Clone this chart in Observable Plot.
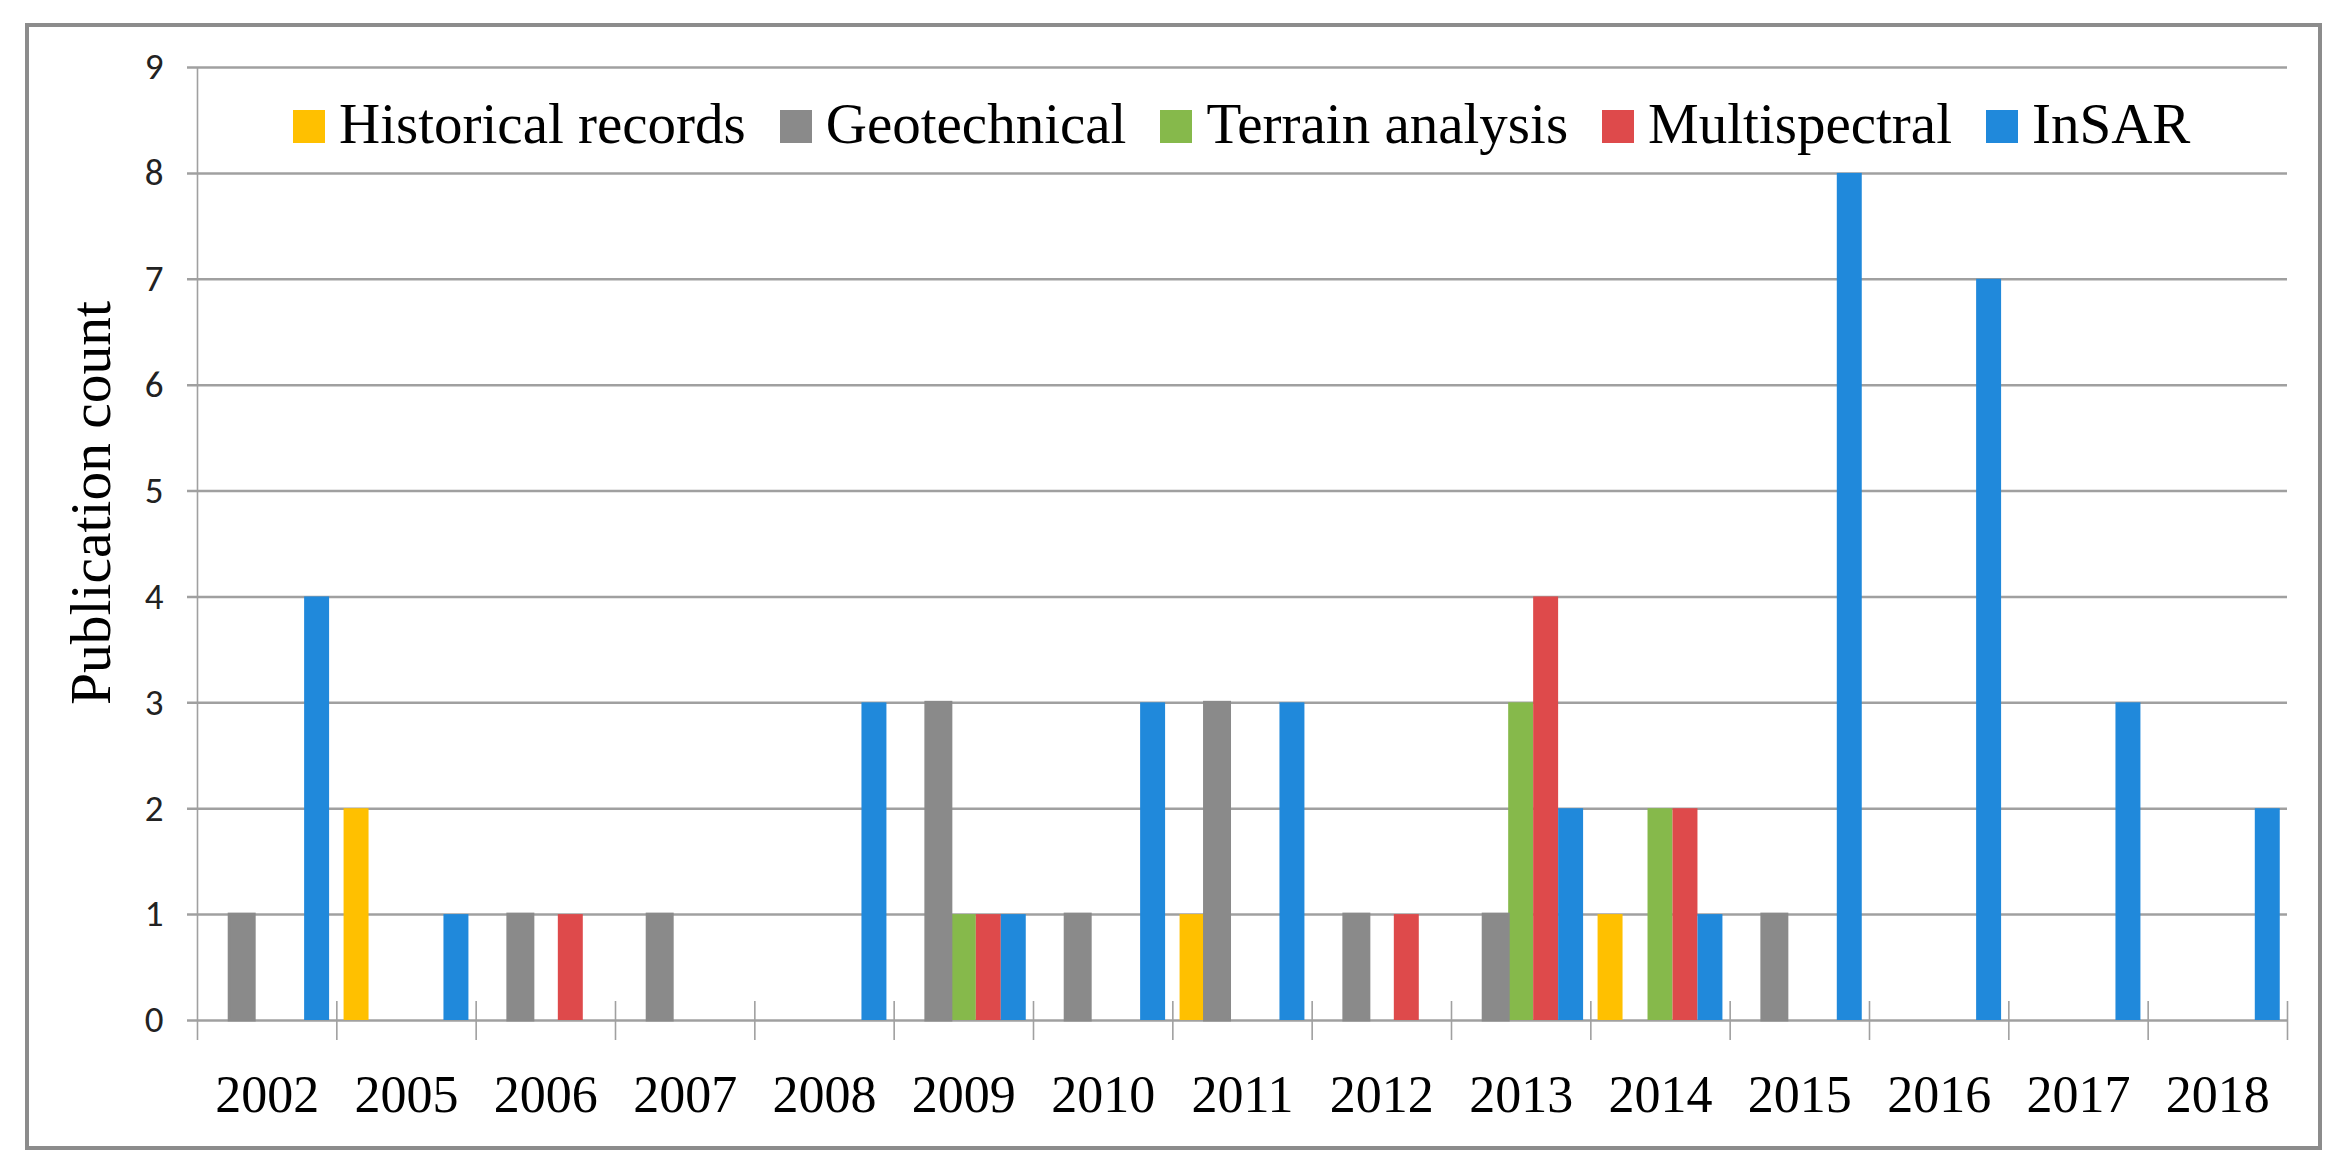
<!DOCTYPE html>
<html>
<head>
<meta charset="utf-8">
<script src="https://cdn.jsdelivr.net/npm/d3@7"></script>
<script src="https://cdn.jsdelivr.net/npm/@observablehq/plot@0.6"></script>
<style>
  html, body { margin: 0; padding: 0; background: #fff; }
  #wrap { position: relative; width: 2349px; height: 1176px; background: #fff; overflow: hidden; }
  #frame { position: absolute; left: 25px; top: 23px; width: 2297px; height: 1127px; box-sizing: border-box; border: 4px solid #8c8c8c; }
  #chart { position: absolute; left: 0; top: 0; }
  #legend { position: absolute; left: 293px; top: 96px; display: flex; align-items: center; gap: 34px;
            font-family: "Liberation Serif", "Times New Roman", serif; font-size: 57px; line-height: 56px; color: #000; white-space: nowrap; }
  #legend .item { display: flex; align-items: center; }
  #legend .sw { width: 32px; height: 33px; margin-right: 14px; margin-top: 4px; }
  #ytitle { position: absolute; left: 91px; top: 503px; transform: translate(-50%, -50%) rotate(-90deg);
            font-family: "Liberation Serif", "Times New Roman", serif; font-size: 57.5px; line-height: 57.5px; color: #000; white-space: nowrap; }
</style>
</head>
<body>
<div id="wrap">
  <div id="frame"></div>
  <div id="chart"></div>
  <div id="legend"></div>
  <div id="ytitle"></div>
</div>
<script>
// ---- Data ----
const years = ["2002", "2005", "2006", "2007", "2008", "2009", "2010", "2011", "2012", "2013", "2014", "2015", "2016", "2017", "2018"];
const series = ["Historical records", "Geotechnical", "Terrain analysis", "Multispectral", "InSAR"];
const colors = ["#FFC000", "#8a8a8a", "#86B94B", "#DE4A4B", "#2089DB"];
const historical    = [0, 2, 0, 0, 0, 0, 0, 1, 0, 0, 1, 0, 0, 0, 0];
const geotechnical  = [1, 0, 1, 1, 0, 3, 1, 3, 1, 1, 0, 1, 0, 0, 0];
const terrain       = [0, 0, 0, 0, 0, 1, 0, 0, 0, 3, 2, 0, 0, 0, 0];
const multispectral = [0, 0, 1, 0, 0, 1, 0, 0, 1, 4, 2, 0, 0, 0, 0];
const insar         = [4, 1, 0, 0, 3, 1, 3, 3, 0, 2, 1, 8, 7, 3, 2];
const yTicks = [0, 1, 2, 3, 4, 5, 6, 7, 8, 9];
const yLabel = "Publication count";

// ---- Build table ----
const seriesValues = [historical, geotechnical, terrain, multispectral, insar];
const rows = [];
seriesValues.forEach((vals, si) => vals.forEach((v, i) => {
  if (v > 0) rows.push({year: years[i], idx: i, si, series: series[si], value: v});
}));

// Excel-style clustered columns: gap between clusters relative to one bar
const gapWidth = 0.58;
const barFrac = 1 / (series.length + gapWidth);
const bx1 = d => d.idx + barFrac * (gapWidth / 2 + d.si);
const bx2 = d => d.idx + barFrac * (gapWidth / 2 + d.si + 1);

const gridColor = "#a0a0a0";
const chart = Plot.plot({
  width: 2349,
  height: 1176,
  marginLeft: 197,
  marginRight: 62,
  marginTop: 67,
  marginBottom: 156,
  style: {background: "transparent", overflow: "visible"},
  x: {type: "linear", domain: [0, years.length], axis: null},
  y: {domain: [0, 9], axis: null},
  color: {domain: series, range: colors},
  marks: [
    Plot.ruleY(yTicks, {x1: 0, x2: years.length, insetLeft: -10, stroke: gridColor, strokeWidth: 2.5}),
    Plot.ruleX([0], {y1: 9, y2: 0, insetBottom: -20, stroke: gridColor, strokeWidth: 1.6}),
    Plot.ruleX(d3.range(1, years.length + 1), {y1: 0, y2: 0, insetTop: -19, insetBottom: -20, stroke: gridColor, strokeWidth: 1.6}),
    Plot.rectY(rows, {x1: bx1, x2: bx2, y: "value", fill: "series"}),
    Plot.rectY(rows.filter(d => d.series === "Geotechnical"), {x1: bx1, x2: bx2, y: "value", fill: "series", stroke: "series", strokeWidth: 3}),
    Plot.axisY({ticks: yTicks, tickSize: 0, tickPadding: 34, tickFormat: d3.format("d"), label: null,
                fontSize: 37, fontFamily: "Carlito, Lato, 'Liberation Sans', sans-serif", fill: "#222"}),
    Plot.axisX({ticks: years.map((_, i) => i + 0.5), tickFormat: t => years[Math.floor(t)], tickSize: 0, tickPadding: 55, label: null,
                fontSize: 52, fontFamily: "'Liberation Serif', 'Times New Roman', serif", fill: "#000"})
  ]
});
document.getElementById("chart").appendChild(chart);

// ---- Y axis title ----
document.getElementById("ytitle").textContent = yLabel;

// ---- Legend (overlaid inside the plot, as in the reference) ----
const legend = document.getElementById("legend");
series.forEach((s, i) => {
  const item = document.createElement("div");
  item.className = "item";
  const sw = document.createElement("span");
  sw.className = "sw";
  sw.style.background = colors[i];
  const t = document.createElement("span");
  t.textContent = s;
  item.appendChild(sw);
  item.appendChild(t);
  legend.appendChild(item);
});
</script>
</body>
</html>
